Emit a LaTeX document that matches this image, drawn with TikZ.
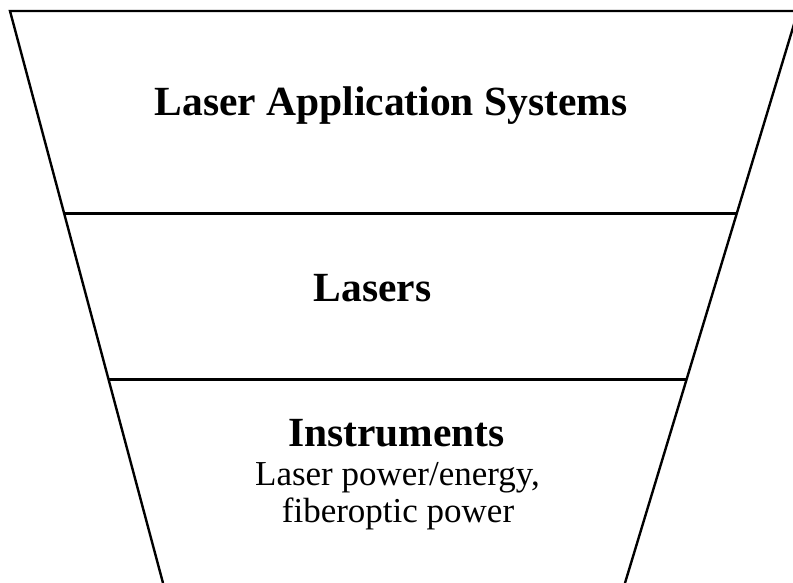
\documentclass[tikz,border=0pt]{standalone}
\usepackage{fontspec}
\setmainfont{Liberation Serif}
\usetikzlibrary{calc}
\begin{document}
\begin{tikzpicture}[x=1pt,y=1pt,
  edge/.style={line width=2.4pt,black},
  headtext/.style={anchor=base,inner sep=0pt,font=\fontsize{41.5}{48}\selectfont\bfseries},
  subtext/.style={anchor=base,inner sep=0pt,font=\fontsize{35}{37}\selectfont}]
\useasboundingbox (0,0) rectangle (793,582);
\clip (0,0) rectangle (793,582);
\coordinate (tl) at (10,571);
\coordinate (tr) at (798,571);
\coordinate (bl) at (163,-1);
\coordinate (br) at (625,-1);
\draw[edge,line join=miter] (bl) -- (tl) -- (tr) -- (br);
\coordinate (l1) at ($(tl)!0.3538!(bl)$);
\coordinate (r1) at ($(tr)!0.3538!(br)$);
\coordinate (l2) at ($(tl)!0.6445!(bl)$);
\coordinate (r2) at ($(tr)!0.6445!(br)$);
\draw[edge] (l1) -- (r1);
\draw[edge] (l2) -- (r2);
\node[headtext] (top) at (391,466) {Laser Application Systems};
\node[headtext] (mid) at (372.5,280) {Lasers};
\node[headtext] (bot) at (396.5,136) {Instruments};
\node[subtext] (sub1) at (397.5,97) {Laser power/energy,};
\node[subtext] (sub2) at (398,60) {fiberoptic power};
\end{tikzpicture}
\end{document}
